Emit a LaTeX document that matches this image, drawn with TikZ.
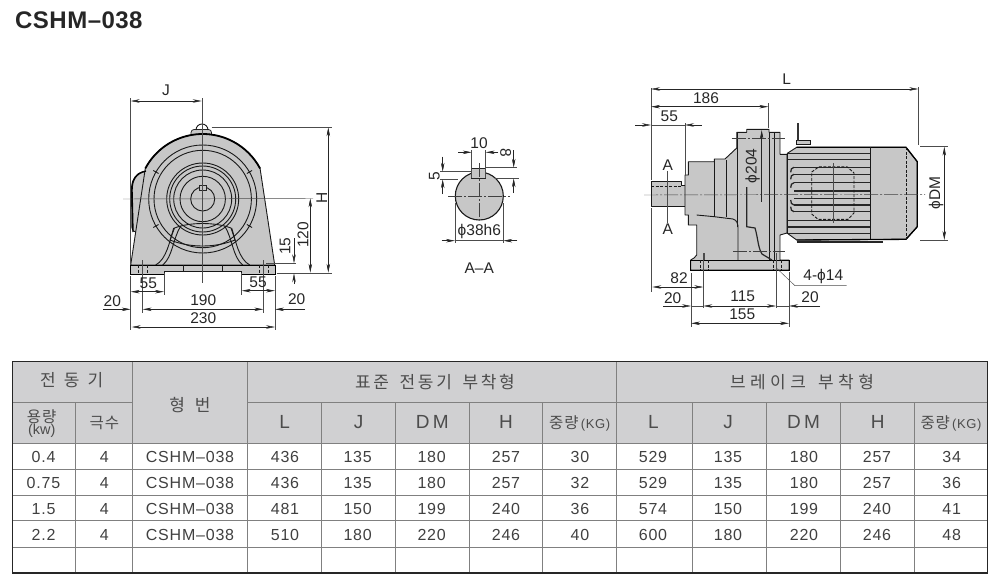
\documentclass[tikz,border=0pt]{standalone}
\usepackage{fontspec}
\setmainfont{Liberation Sans}
\newfontfamily\titlefont[LetterSpace=2]{Liberation Sans}
\newfontfamily\tabfont[LetterSpace=5]{Liberation Sans}
\newfontfamily\kofont[LetterSpace=6]{Noto Sans CJK KR}
\newfontfamily\kowide[LetterSpace=16]{Noto Sans CJK KR}
\newfontfamily\kowider[LetterSpace=26]{Noto Sans CJK KR}
\usetikzlibrary{arrows.meta,calc}
\definecolor{castgray}{gray}{0.78}
\definecolor{headgray}{RGB}{208,208,210}
\definecolor{inkgray}{gray}{0.15}
\tikzset{
  dimtext/.style={text=inkgray,inner sep=0pt,font=\fontsize{15.5}{15.5}\selectfont},
  dimline/.style={draw=inkgray,line width=.5pt,-{Stealth[length=9pt,width=3.5pt]}},
  dimboth/.style={draw=inkgray,line width=.5pt,{Stealth[length=9pt,width=3.5pt]}-{Stealth[length=9pt,width=3.5pt]}},
  extline/.style={draw=black!70,line width=.45pt},
  centerline/.style={draw=black!75,line width=.45pt,dash pattern=on 14pt off 2pt on 2pt off 2pt},
  castbody/.style={fill=castgray,draw=black!90,line width=.9pt,line join=round},
  casting/.style={draw=black!90,line width=.9pt},
  finline/.style={draw=black!85,line width=1.3pt},
  hiddenline/.style={draw=black!90,line width=.9pt,dash pattern=on 3pt off 1.5pt},
  headcell/.style={text=black!70,inner sep=0pt,font=\tabfont\fontsize{19}{19}\selectfont},
  kohead/.style={text=black!70,inner sep=0pt,font=\kowide\fontsize{17}{17}\selectfont},
  kosmall/.style={text=black!70,inner sep=0pt,font=\kofont\fontsize{15.5}{15.5}\selectfont},
  cellval/.style={text=black!75,inner sep=0pt,font=\tabfont\fontsize{16}{16}\selectfont},
  tabgrid/.style={draw=black!50,line width=.5pt},
}
\begin{document}
\begin{tikzpicture}[x=1pt,y=-1pt]
\useasboundingbox (0,0) rectangle (999,587);
% title
\node[anchor=base west,inner sep=0pt,text=black!85,font=\titlefont\bfseries\fontsize{24}{24}\selectfont] (title) at (15,28) {CSHM–038};

% front view
\coordinate (hub) at (202.7,199);
\fill[castgray,draw=black!85,line width=.8pt,rounded corners=3pt] (191,137) -- (191,129.5) -- (211.5,129.5) -- (211.5,137) -- cycle;
\draw[casting] (196,130) arc[start angle=180,end angle=360,radius=6];
\draw[castbody,rounded corners=4pt] (132,232) -- (131.5,190) .. controls (132,180) and (136,173) .. (147,171) -- (150,200) -- (140,232) -- cycle;
\draw[castbody] (130.7,265) -- (145.3,168.5) arc[start angle=208,end angle=332,radius=65] -- (274.7,265) -- cycle;
\draw[black,line width=1.8pt] (145.3,168.5) arc[start angle=208,end angle=332,radius=65];
\draw[black,line width=1.4pt] (133,232) -- (132,190) .. controls (132,180) and (136,173) .. (146,171);
\foreach \rad in {54,48.7,36,33,29,22.7,12}
  \draw[casting] (hub) circle[radius=\rad];
\foreach \ang in {30,150,210,330}
  \draw[casting] (hub) ++(\ang:51) -- ++(\ang:6);
% ribs of the foot
\foreach \sgn in {1,-1} {
  \draw[casting] ($(hub)+(\sgn*29,29)$) .. controls ($(hub)+(\sgn*33,42)$) and ($(hub)+(\sgn*36,60)$) .. ($(hub)+(\sgn*47,66)$);
  \draw[casting] ($(hub)+(\sgn*22,27)$) .. controls ($(hub)+(\sgn*30,40)$) and ($(hub)+(\sgn*30,58)$) .. ($(hub)+(\sgn*40,66)$);
}
\draw[casting] (174.5,228) .. controls (190,222) and (215,222) .. (231,228) -- (235,240) .. controls (215,248) and (190,248) .. (170,240) -- cycle;
\fill[castgray,draw=black,line width=.8pt] (130.7,265) rectangle (275,274.3);
\fill[white] (164,271) rectangle (241.7,274.8);
\draw[casting] (164,274.3) -- (164,271) -- (241.7,271) -- (241.7,274.3);
\draw[casting] (183.5,265) -- (183.5,271) (222,265) -- (222,271);
\foreach \xx in {138,147,259,268}
  \draw[hiddenline,line width=.5pt] (\xx,265) -- (\xx,274);
\fill[castgray,draw=black!85,line width=.7pt] (199,185) rectangle (206.7,190.5);
\draw[extline] (123,199) -- (313,198.5);
\draw[extline] (202.7,98) -- (202.7,283);
\draw[extline] (130.7,98) -- (130.7,265) (130.7,276) -- (130.7,330);
\draw[extline] (275,276) -- (275,330);
\draw[extline] (211.7,127.3) -- (331.7,127.3);
\draw[extline] (276.7,273.3) -- (331.7,273.3);
\draw[extline] (266,263.3) -- (296,263.3);
\draw[extline] (164,273) -- (164,295) (241.7,273) -- (241.7,295);
\draw[extline] (142.7,260) -- (142.7,313) (263.3,260) -- (263.3,313);
\node[dimtext] (frontJ) at (166,90) {J};
\draw[dimboth] (130.7,101) -- (201.7,101);
\node[dimtext,rotate=90] (frontH) at (321.7,198) {H};
\draw[dimboth] (328.3,127.3) -- (328.3,272.7);
\node[dimtext,rotate=90] (front120) at (303,235) {120};
\draw[dimboth] (310.3,198.3) -- (310.3,272.7);
\node[dimtext,rotate=90] (front15) at (285,246) {15};
\draw[dimline] (294,238) -- (294,263.3);
\draw[dimline] (294,284) -- (294,273.3);
\node[dimtext] (footL) at (148.3,283.3) {55};
\draw[dimboth] (130.7,291.7) -- (164,291.7);
\node[dimtext] (footR) at (258,282.3) {55};
\draw[dimboth] (241.7,290.7) -- (275,290.7);
\node[dimtext] (pitch) at (203.3,300) {190};
\draw[dimboth] (142.7,309.3) -- (263.3,309.3);
\node[dimtext] (edgeL) at (112.3,301) {20};
\draw[dimline] (103,309.3) -- (130.7,309.3);
\node[dimtext] (edgeR) at (296.7,299.3) {20};
\draw[dimline] (305,309.3) -- (275,309.3);
\node[dimtext] (width) at (203.3,318.3) {230};
\draw[dimboth] (131.7,327) -- (275,327);

% section A-A
\coordinate (shaft) at (479.3,196);
\draw[castbody,line width=1.1pt] (shaft) circle[radius=24];
\fill[castgray,draw=black!85,line width=.8pt] (471.7,168.3) rectangle (485.7,178.3);
\draw[extline] (471.7,150) -- (471.7,178) (485.7,150) -- (485.7,178);
\draw[centerline] (448.3,196) -- (510,196);
\draw[centerline] (479.3,163) -- (479.3,220);
\draw[extline] (485.7,167.7) -- (516.7,167.7);
\draw[extline] (495,178.3) -- (519,178.3);
\draw[extline] (440,171.7) -- (471.7,171.7);
\draw[extline] (440,179.3) -- (458,179.3);
\draw[extline] (455,203) -- (455,243) (503.3,203) -- (503.3,243);
\node[dimtext] (keyW) at (479,142.7) {10};
\draw[dimline] (458.3,152.3) -- (471.7,152.3);
\draw[dimline] (498.3,152.3) -- (485.7,152.3);
\node[dimtext,rotate=-90] (keyH) at (505.7,153.3) {8};
\draw[dimline] (513.7,150) -- (513.7,167.7);
\draw[dimline] (513.7,193) -- (513.7,178.3);
\node[dimtext,rotate=90] (keyD) at (434.3,176) {5};
\draw[dimline] (442.7,156.7) -- (442.7,171.7);
\draw[dimline] (442.7,194) -- (442.7,179.3);
\node[dimtext] (shaftD) at (479.3,231.7) {ϕ38h6};
\draw[dimline] (441.7,240.7) -- (455,240.7);
\draw[dimline] (517.3,240.7) -- (503.3,240.7);
\draw[extline] (455,240.7) -- (503.3,240.7);
\node[dimtext] (secname) at (479.3,268.3) {A–A};

% side view, reducer
\draw[castbody] (651,181) -- (681.7,181) -- (681.7,185) -- (685,185) -- (685,206) -- (651,206) -- cycle;
\draw[hiddenline,line width=.6pt] (651,186.7) -- (682,186.7);
\draw[castbody] (685,175) -- (688.3,175) -- (688.3,161.7) -- (714.3,161.7) -- (714.3,159) -- (725,159) -- (736.7,148) -- (736.7,132.3) -- (746.7,132.3) -- (746.7,129.3) -- (769,129.3) -- (769,132.3) -- (780,132.3) -- (780,154.3) -- (787,154.3) -- (787,233) -- (780,235) -- (780,260) -- (789,260) -- (789,270) -- (690.7,270) -- (690.7,260) -- (694,258) -- (696.7,255) -- (696.7,225) -- (688.3,225) -- (688.3,215) -- (685,215) -- cycle;
\draw[black,line width=.9pt] (690.7,260) rectangle (789,270);
\draw[casting] (714.3,161) -- (714.3,216.7) (726,160) -- (726,216.7);
\draw[casting] (696.7,215) -- (714.3,216.7) -- (733,219) .. controls (737,220) and (738,224) .. (738,228) -- (738,260);
\draw[casting] (737.7,132.3) -- (737.7,227);
\draw[casting] (769,132) -- (769,260) (774.3,132) -- (774.3,260);
\draw[black!85,line width=1.2pt] (746.7,187) -- (746.7,226.7) -- (755,228) .. controls (758,238) and (758,248) .. (762,254) -- (772,260);
\draw[hiddenline,line width=.5pt] (700,260) -- (700,270) (708.3,260) -- (708.3,270) (773.3,260) -- (773.3,270) (781.7,260) -- (781.7,270);
\draw[extline] (704.3,253) -- (704.3,260);
% motor
\draw[casting,fill=castgray] (796.7,144) rectangle (810.7,140.7);
\fill[black!80] (796.7,123.3) rectangle (799.3,141);
\draw[castbody] (787.3,153.3) -- (796.7,147.3) -- (906,147.3) -- (917.3,161.7) -- (917.3,226.7) -- (906,239.3) -- (796.7,240) -- (787.3,233.3) -- cycle;
\draw[black,line width=1.3pt] (796.7,147.3) -- (906,147.3) -- (917.3,161.7) -- (917.3,226.7) -- (906,239.3) -- (796.7,240);
\draw[black!85,line width=1.6pt] (796.7,241.7) -- (883.3,241.7);
\draw[casting] (870.7,147.3) -- (870.7,239.3);
\draw[hiddenline] (906,147.3) -- (906,239.3);
\foreach \yy in {153.3,159.3,233.3,227,220.3} \draw[finline] (788,\yy) -- (870,\yy);
\foreach \yy in {167.3,174.3,182.7,191,198.3,205,211.7} \draw[finline] (794,\yy) -- (870,\yy);
\foreach \yy/\sgn in {167.3/2.5,174.3/2.5,182.7/2.5,205/-2.5,211.7/-2.5}
  \draw[finline] (794,\yy) .. controls (791.5,\yy) and (790.7,\yy+\sgn) .. (790.7,\yy+2*\sgn);
\draw[hiddenline] (811.7,172) -- (819,166.7) -- (847,166.7) -- (854,173) -- (854,213) -- (848,219.3) -- (818,219.3) -- (811.7,214) -- cycle;
\draw[extline,line width=.8pt] (833.3,163) -- (833.3,223);
\draw[centerline] (644,195) -- (925,194.3);
\draw[centerline] (731.7,138.3) -- (785,138.3);
\draw[centerline] (733.3,251) -- (785,251);
% side view, dimensions
\draw[extline] (651,88) -- (651,180) (651,208) -- (651,291.7);
\draw[extline] (685,123) -- (685,175);
\draw[extline] (768.3,103) -- (768.3,128);
\draw[extline] (918.3,87) -- (918.3,145);
\draw[extline] (920,146.7) -- (948.3,146.7) (920,240) -- (948.3,240);
\draw[extline] (691,273) -- (691,327) (789,272) -- (789,327);
\draw[extline] (703.3,253) -- (703.3,308) (776,253) -- (776,308);
\node[dimtext] (sideL) at (786.7,79) {L};
\draw[dimboth] (651,89) -- (918.3,89);
\node[dimtext] (side186) at (706,98.3) {186};
\draw[dimboth] (651,106.7) -- (768.3,106.7);
\node[dimtext] (side55) at (669.3,116.7) {55};
\draw[dimline] (635,125) -- (651,125);
\draw[dimline] (701.7,125) -- (685,125);
\draw[extline] (651,125) -- (685,125);
\node[dimtext] (sectA) at (667.7,165.3) {A};
\node[dimtext] (sectB) at (667.7,229) {A};
\draw[extline] (sectA.south) -- (sectB.north);
\node[dimtext,rotate=90] (sideD) at (752.7,166) {ϕ204};
\draw[dimline] (761.7,201.7) -- (761.7,130);
\node[dimtext,rotate=90] (sideDM) at (936,192.7) {ϕDM};
\draw[dimboth] (944.3,146.7) -- (944.3,240);
\node[dimtext] (holes) at (823.3,276.7) {4-ϕ14};
\coordinate (holeend) at (846.7,285.7);
\draw[extline] (holeend) -- (795,285.7) -- (776.7,268.3);
\node[dimtext] (side82) at (679,278.3) {82};
\draw[dimboth] (652.3,287) -- (703.3,287);
\node[dimtext] (sideE1) at (672.7,297.7) {20};
\draw[dimline] (663.3,306) -- (691,306);
\draw[dimboth] (703.3,306) -- (776,306);
\draw[extline] (691,306) -- (703.3,306);
\node[dimtext] (side115) at (742.7,296.7) {115};
\node[dimtext] (sideE2) at (810,296.7) {20};
\draw[dimline] (820,306) -- (789,306);
\draw[extline] (776,306) -- (789,306);
\node[dimtext] (side155) at (742.3,314) {155};
\draw[dimboth] (691,323.3) -- (789,323.3);

% table
\fill[headgray] (12.7,361.7) rectangle (987.7,443.3);
\foreach \yy in {469.3,495,520.7,547.3} \draw[tabgrid] (12.7,\yy) -- (987.7,\yy);
\draw[tabgrid] (12.7,443.3) -- (987.7,443.3);
\draw[tabgrid] (12.7,402.7) -- (132.5,402.7) (247.7,402.7) -- (987.7,402.7);
\foreach \xx in {132.5,247.7,616.7} \draw[tabgrid] (\xx,361.7) -- (\xx,573);
\foreach \xx in {75.5,321.7,395.3,469.3,542.7,692.3,766.3,840.7,914.7} \draw[tabgrid] (\xx,402.7) -- (\xx,573);
\draw[inkgray,line width=1.2pt] (12.7,361.7) rectangle (987.7,573);
\node[kohead] (motor) at (71.7,380) {전\hspace{8pt}동\hspace{8pt}기};
\node[kohead] (model) at (190,405) {형\hspace{10pt}번};
\node[kohead] (stdtype) at (435,381.7) {표준\hspace{4pt} 전동기\hspace{4pt} 부착형};
\node[kohead,font=\kowider\fontsize{17}{17}\selectfont] (braketype) at (802,381.7) {브레이크\hspace{4pt} 부착형};
\node[kosmall] (capa) at (41.7,416.7) {용량};
\node[text=black!70,inner sep=0pt,font=\fontsize{14.5}{14.5}\selectfont] (capaunit) at (41.7,431) {(kw)};
\node[kosmall] (poles) at (104.3,423) {극수};
\foreach \xx/\hdr [count=\c] in {284.7/L,358.5/J,432.3/D\,M,506/H,653.5/L,728/J,803.5/D\,M,877.7/H}
  \node[headcell] (hdr\c) at (\xx,422.3) {\hdr};
\foreach \xx [count=\c] in {579.7,951}
  \node[kosmall] (weight\c) at (\xx,423) {중량{\tabfont\fontsize{13}{13}\selectfont\,(KG)}};
\foreach \xx/\vals [count=\c] in {
  43.5/{0.4,0.75,1.5,2.2},
  104.3/{4,4,4,4},
  190/{CSHM–038,CSHM–038,CSHM–038,CSHM–038},
  285/{436,436,481,510},
  357.7/{135,135,150,180},
  431.7/{180,180,199,220},
  506/{257,257,240,246},
  580/{30,32,36,40},
  653/{529,529,574,600},
  728/{135,135,150,180},
  804/{180,180,199,220},
  877/{257,257,240,246},
  951.7/{34,36,41,48}}
  \foreach \v [count=\r] in \vals
    \node[cellval] (cell\c-\r) at (\xx,{430.6+26.1*\r}) {\v};
\end{tikzpicture}
\end{document}
